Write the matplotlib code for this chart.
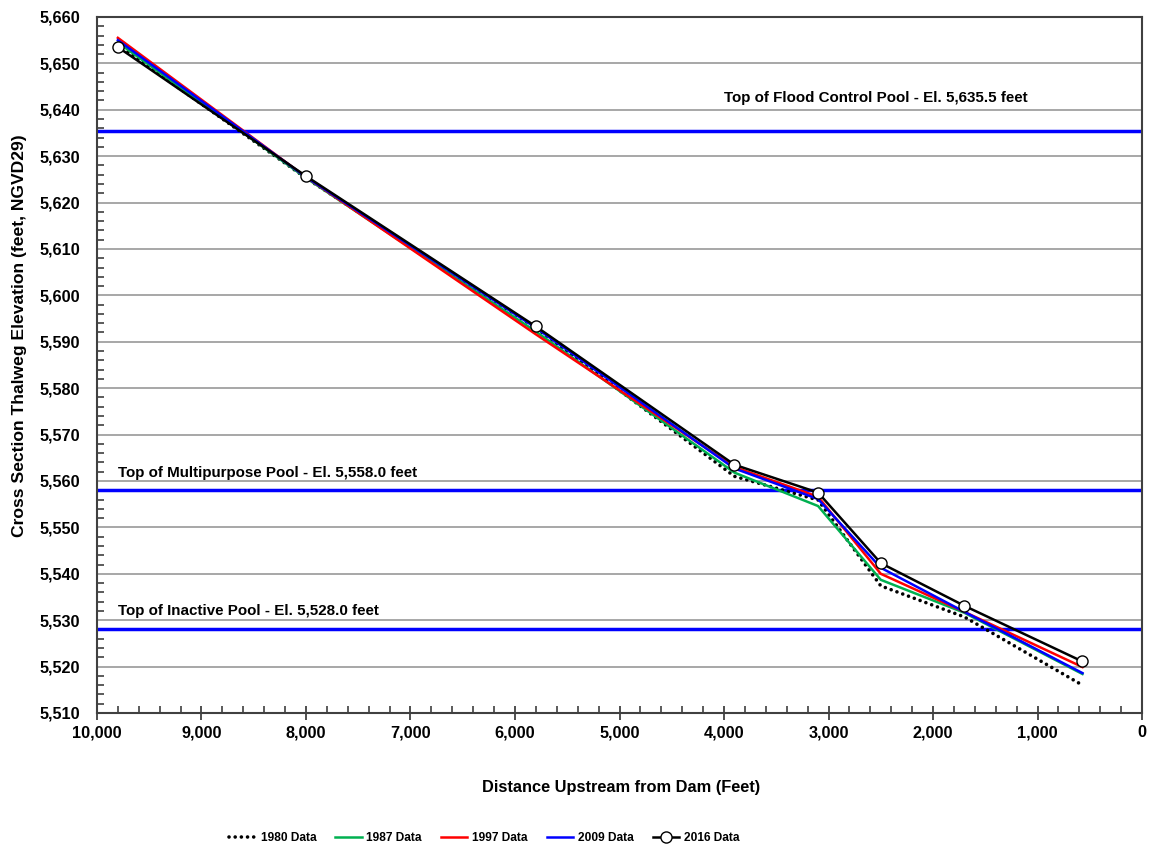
import matplotlib.pyplot as plt
from matplotlib.ticker import MultipleLocator, FuncFormatter

# Distance upstream from dam (ft) for each cross section
distance = [9800, 8000, 5800, 3900, 3100, 2500, 1700, 570]

# Thalweg elevation by survey year (ft, NGVD29)
elev_1980 = [5654.0, 5625.3, 5593.0, 5561.0, 5555.9, 5537.4, 5530.7, 5516.0]
elev_1987 = [5654.5, 5625.3, 5592.2, 5561.8, 5554.6, 5538.7, 5531.6, 5518.4]
elev_1997 = [5655.5, 5625.5, 5591.6, 5563.0, 5556.6, 5540.0, 5531.8, 5519.9]
elev_2009 = [5655.0, 5625.5, 5593.0, 5562.7, 5556.1, 5541.3, 5531.8, 5518.6]
elev_2016 = [5653.5, 5625.7, 5593.3, 5563.5, 5557.5, 5542.3, 5533.1, 5521.1]

pool_elev = [5635.5, 5558.0, 5528.0]
pool_labels = ["Top of Flood Control Pool - El. 5,635.5 feet",
               "Top of Multipurpose Pool - El. 5,558.0 feet",
               "Top of Inactive Pool - El. 5,528.0 feet"]
pool_label_x = [4000, 9800, 9800]
pool_label_y = [5641.7, 5560.9, 5531.1]

plt.rcParams['font.family'] = ['Liberation Sans', 'DejaVu Sans']
plt.rcParams['font.weight'] = 'bold'

fig = plt.figure(figsize=(11.53, 8.48), dpi=100)
ax = fig.add_axes([0.0841, 0.1592, 0.9064, 0.8208])

ax.set_xlim(10000, 0)
ax.set_ylim(5510, 5660)

ax.yaxis.set_major_locator(MultipleLocator(10))
ax.yaxis.set_minor_locator(MultipleLocator(2))
ax.xaxis.set_major_locator(MultipleLocator(1000))
ax.xaxis.set_minor_locator(MultipleLocator(200))
fmt = FuncFormatter(lambda v, p: f"{v:,.0f}")
ax.xaxis.set_major_formatter(fmt)
ax.yaxis.set_major_formatter(fmt)

ax.grid(axis='y', which='major', color='#a0a0a0', linewidth=1.3)
ax.set_axisbelow(True)

# pool elevation lines and their labels
for e, lab, lx, ly in zip(pool_elev, pool_labels, pool_label_x, pool_label_y):
    ax.axhline(e, color='#0000ff', linewidth=2.5, zorder=2)
    ax.text(lx, ly, lab, fontsize=10.9, fontweight='bold', ha='left', va='baseline')

ax.plot(distance, elev_1980, color='black', linestyle=(0, (0.01, 1.7)), linewidth=2.6,
        dash_capstyle='round', label='1980 Data', zorder=3)
ax.plot(distance, elev_1987, color='#00b050', linewidth=1.8, label='1987 Data', zorder=3)
ax.plot(distance, elev_1997, color='#ff0000', linewidth=1.8, label='1997 Data', zorder=3)
ax.plot(distance, elev_2009, color='#0000ff', linewidth=1.8, label='2009 Data', zorder=3)
ax.plot(distance, elev_2016, color='black', linewidth=1.8, marker='o', markersize=8,
        markerfacecolor='white', markeredgecolor='black', markeredgewidth=1.0,
        label='2016 Data', zorder=4)

for s in ax.spines.values():
    s.set_color('#404040')
    s.set_linewidth(1.5)

ax.tick_params(axis='x', which='major', direction='inout', length=10, width=1.3,
               colors='#404040', labelcolor='black', labelsize=11.7, pad=4)
ax.tick_params(axis='x', which='minor', direction='in', length=5, width=1.2, colors='#404040')
ax.tick_params(axis='y', which='major', direction='in', length=0, labelsize=11.7, pad=12)
ax.tick_params(axis='y', which='minor', direction='in', length=5, width=1.2, colors='#404040')
for lbl in ax.get_xticklabels() + ax.get_yticklabels():
    lbl.set_fontweight('bold')

ax.set_xlabel("Distance Upstream from Dam (Feet)", fontsize=11.8, fontweight='bold')
ax.set_ylabel("Cross Section Thalweg Elevation (feet, NGVD29)", fontsize=12.6,
              fontweight='bold')
ax.xaxis.set_label_coords(0.502, -0.096)
ax.yaxis.set_label_coords(-0.067, 0.542)

leg = fig.legend(loc='center', bbox_to_anchor=(0.42, 0.012), ncol=5, frameon=False,
                 fontsize=8.6, handlelength=2.2, columnspacing=1.6, handletextpad=0.4,
                 borderpad=0.0)
for t in leg.get_texts():
    t.set_fontweight('bold')

fig.savefig("out.png", dpi=100)
